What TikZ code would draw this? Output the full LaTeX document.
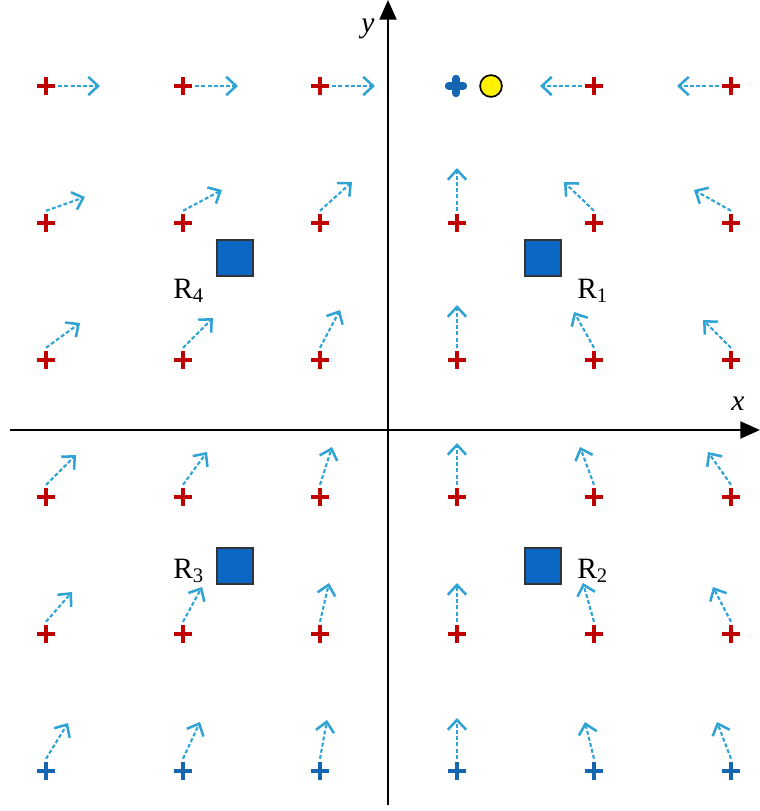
\documentclass[tikz,border=0pt]{standalone}
\usepackage{fontspec}
\setmainfont{Liberation Serif}
\usetikzlibrary{arrows.meta}
\definecolor{crossred}{HTML}{C00000}
\definecolor{crossblue}{HTML}{1565B0}
\definecolor{vecblue}{HTML}{2EA3D4}
\definecolor{roomblue}{HTML}{0A68C4}
\definecolor{sunyellow}{HTML}{FFF200}

\begin{document}
\begin{tikzpicture}[x=0.025cm, y=-0.025cm,
  cross/.style={circle, inner sep=0pt, minimum size=17pt,
    path picture={\draw[#1, line width=2.9pt] (path picture bounding box.center)
      +(-6.2pt,0) -- +(6.2pt,0) +(0,-6.2pt) -- +(0,6.2pt);}},
  cross/.default=crossred,
  bigplus/.style={circle, inner sep=0pt, minimum size=24pt,
    path picture={\draw[crossblue, line width=5.5pt, line cap=round] (path picture bounding box.center)
      +(-5.2pt,0) -- +(5.2pt,0) +(0,-5.2pt) -- +(0,5.2pt);}},
  vec/.style={vecblue, line width=1.5pt, dash pattern=on 2.8pt off 1.6pt,
    -{Straight Barb[length=7pt, width=13pt, line width=1.8pt]}},
  room/.style={draw=black!80, fill=roomblue, line width=1pt, minimum size=25.5pt, inner sep=0pt},
  axis/.style={line width=1.9pt, -{Triangle[length=14pt, width=12pt]}},
  lbl/.style={font=\fontsize{21}{25}\selectfont, inner sep=0pt}]
  \useasboundingbox (0,0) rectangle (760,811);

  % Axes
  \coordinate (xl) at (10,430);
  \coordinate (xr) at (760,430);
  \coordinate (yb) at (388,805);
  \coordinate (yt) at (388,0);
  \draw[axis] (xl) -- (xr);
  \draw[axis] (yb) -- (yt);
  \node[lbl, anchor=base] (xlab) at (738,410) {\textit{x}};
  \node[lbl, anchor=base] (ylab) at (368,32) {\textit{y}};

  % Crosses
  \foreach \i/\x in {1/46,2/183,3/320,4/457,5/594,6/731}{
    \foreach \j/\y in {2/223,3/360,4/497,5/634}
      \node[cross] (c\i\j) at (\x,\y) {};
    \node[cross=crossblue] (c\i6) at (\x,771) {};
  }
  \foreach \i/\x in {1/46,2/183,3/320,5/594,6/731}
    \node[cross] (c\i1) at (\x,86) {};

  % Source and target
  \node[bigplus] (src) at (456,86) {};
  \node[circle, draw, line width=1.2pt, fill=sunyellow, minimum size=15.5pt, inner sep=0pt] (sun) at (491,86) {};

  % Top row vectors
  \foreach \i/\ex in {1/100,2/238,3/375}{
    \coordinate (e\i1) at (\ex,86);
    \draw[vec] (c\i1.east) -- (e\i1);
  }
  \foreach \i/\ex in {5/540,6/677}{
    \coordinate (e\i1) at (\ex,86);
    \draw[vec] (c\i1.west) -- (e\i1);
  }

  % Other vectors
  \foreach \i/\j/\ex/\ey in {
      1/2/85/197, 2/2/222/190, 3/2/352/182, 4/2/457/168, 5/2/564/182, 6/2/694/190,
      1/3/80/323, 2/3/213/318, 3/3/340/310, 4/3/457/305, 5/3/574/312, 6/3/703/320,
      1/4/76/455, 2/4/207/452, 3/4/332/447, 4/4/457/443, 5/4/580/447, 6/4/708/452,
      1/5/72/592, 2/5/202/587, 3/5/329/583, 4/5/457/583, 5/5/583/583, 6/5/713/587,
      1/6/68/723, 2/6/200/722, 3/6/327/720, 4/6/457/718, 5/6/585/722, 6/6/717/722}{
    \coordinate (e\i\j) at (\ex,\ey);
    \draw[vec] (c\i\j.north) -- (e\i\j);
  }

  % Rooms
  \node[room] (r1) at (543,258) {};
  \node[room] (r2) at (543,566) {};
  \node[room] (r3) at (235,566) {};
  \node[room] (r4) at (235,258) {};
  \node[lbl, anchor=base west] (l1) at (577,298) {R\textsubscript{1}};
  \node[lbl, anchor=base west] (l2) at (577,578) {R\textsubscript{2}};
  \node[lbl, anchor=base west] (l3) at (173,578) {R\textsubscript{3}};
  \node[lbl, anchor=base west] (l4) at (173,298) {R\textsubscript{4}};
\end{tikzpicture}
\end{document}
